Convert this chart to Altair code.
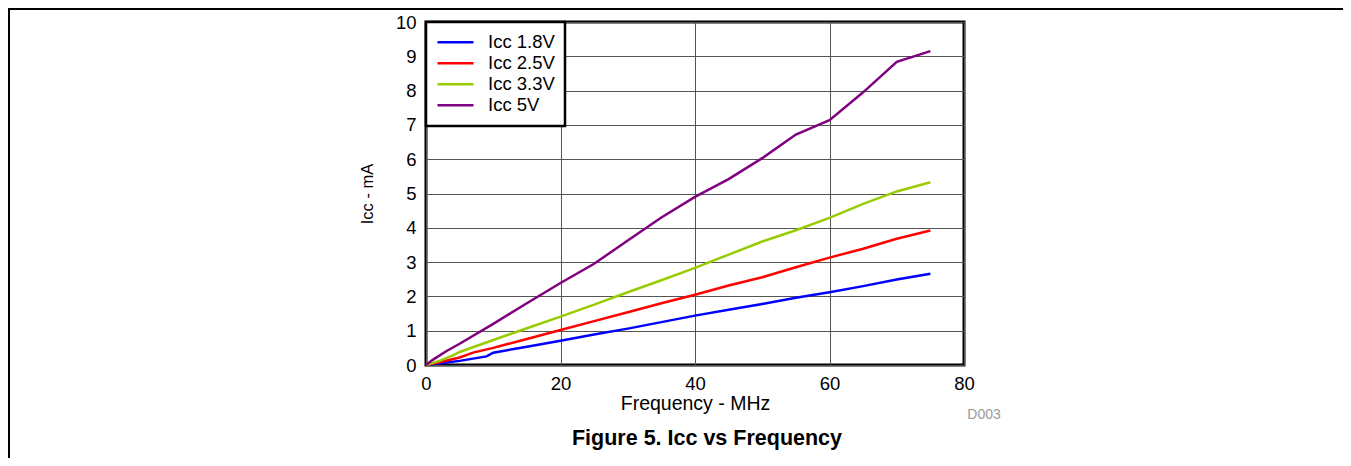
import altair as alt
import pandas as pd

series_names = ["Icc 1.8V", "Icc 2.5V", "Icc 3.3V", "Icc 5V"]
series_colors = ["#0000ff", "#ff0000", "#99cc00", "#800080"]

freq_18 = [0, 3, 5, 9, 10, 15, 20, 25, 30, 35, 40, 45, 50, 55, 60, 65, 70, 75]
icc_18 = [0, 0.07, 0.12, 0.25, 0.36, 0.53, 0.71, 0.89, 1.06, 1.25, 1.44, 1.61, 1.78, 1.96, 2.12, 2.30, 2.49, 2.66]

freq_25 = [0, 2, 5, 7, 10, 15, 20, 25, 30, 35, 40, 45, 50, 55, 60, 65, 70, 75]
icc_25 = [0, 0.08, 0.22, 0.36, 0.50, 0.76, 1.02, 1.28, 1.54, 1.80, 2.05, 2.32, 2.56, 2.85, 3.13, 3.39, 3.68, 3.92]

freq_33 = [0, 2, 4, 5, 10, 15, 20, 25, 30, 35, 40, 45, 50, 55, 60, 65, 70, 75]
icc_33 = [0, 0.12, 0.28, 0.38, 0.73, 1.07, 1.41, 1.76, 2.12, 2.47, 2.83, 3.22, 3.60, 3.93, 4.29, 4.70, 5.06, 5.33]

freq_50 = [0, 1, 3, 5, 10, 15, 20, 25, 30, 35, 40, 45, 50, 55, 60, 65, 70, 75]
icc_50 = [0, 0.15, 0.40, 0.62, 1.20, 1.80, 2.39, 2.95, 3.63, 4.30, 4.90, 5.42, 6.03, 6.72, 7.14, 7.95, 8.84, 9.15]

x_ticks = [0, 20, 40, 60, 80]
y_ticks = list(range(0, 11))

rows = []
for name, fs, vs in zip(series_names, [freq_18, freq_25, freq_33, freq_50],
                        [icc_18, icc_25, icc_33, icc_50]):
    for i, (f, v) in enumerate(zip(fs, vs)):
        rows.append({"series": name, "freq": f, "icc": v, "order": i})
df = pd.DataFrame(rows)

FONT = "Liberation Sans"

lines = alt.Chart(df).mark_line(strokeWidth=2.5).encode(
    x=alt.X("freq:Q", scale=alt.Scale(domain=[0, 80], nice=False),
            axis=alt.Axis(values=x_ticks, title="Frequency - MHz", labelFontSize=18.5,
                          titleFontSize=19.5, labelPadding=9, titlePadding=2,
                          labelFlush=False,
                          titleFontWeight="normal", labelFont=FONT, titleFont=FONT,
                          labelColor="black", titleColor="black")),
    y=alt.Y("icc:Q", scale=alt.Scale(domain=[0, 10], nice=False),
            axis=alt.Axis(values=y_ticks, title="Icc - mA", labelFontSize=18.5,
                          titleFontSize=16.5, labelPadding=10, titlePadding=20,
                          labelFlush=False,
                          titleFontWeight="normal", labelFont=FONT, titleFont=FONT,
                          labelColor="black", titleColor="black")),
    color=alt.Color("series:N",
                    scale=alt.Scale(domain=series_names, range=series_colors),
                    legend=alt.Legend(title=None, orient="top-left", offset=0)),
    order="order:Q",
)

title_df = pd.DataFrame({"t": ["Figure 5. Icc vs Frequency"]})
title_txt = alt.Chart(title_df).mark_text(
    font=FONT, fontSize=21.5, fontWeight="bold", color="black", align="center", baseline="alphabetic"
).encode(text="t:N", x=alt.value(281), y=alt.value(423))

code_df = pd.DataFrame({"t": ["D003"]})
code_txt = alt.Chart(code_df).mark_text(
    font=FONT, fontSize=14, color="#999999", align="center", baseline="middle"
).encode(text="t:N", x=alt.value(558), y=alt.value(393))

frame_df = pd.DataFrame({"k": [1]})
frame_top = alt.Chart(frame_df).mark_rule(color="black", strokeWidth=2).encode(
    x=alt.value(-418), x2=alt.value(930), y=alt.value(-13))
frame_left = alt.Chart(frame_df).mark_rule(color="black", strokeWidth=2).encode(
    x=alt.value(-417), y=alt.value(-14), y2=alt.value(450))

chart = alt.layer(lines, title_txt, code_txt, frame_top, frame_left).properties(
    width=538, height=343,
    autosize=alt.AutoSizeParams(type="none"),
    padding={"left": 418, "top": 14, "right": 379, "bottom": 93},
    background="white",
).configure_view(
    stroke="black", strokeWidth=3
).configure_axis(
    domain=False, ticks=False, grid=True, gridColor="#555555", gridWidth=1, gridOpacity=1
).configure_legend(
    strokeColor="black", strokeWidth=2.5, fillColor="white", padding=10,
    symbolType="stroke", symbolSize=1296, symbolStrokeWidth=2.5,
    labelFontSize=18.5, labelFont=FONT, labelColor="black", labelOffset=13,
    clipHeight=20.5, rowPadding=0, cornerRadius=0,
)

chart.save("out.html", embed_options={"renderer": "svg", "actions": False})
